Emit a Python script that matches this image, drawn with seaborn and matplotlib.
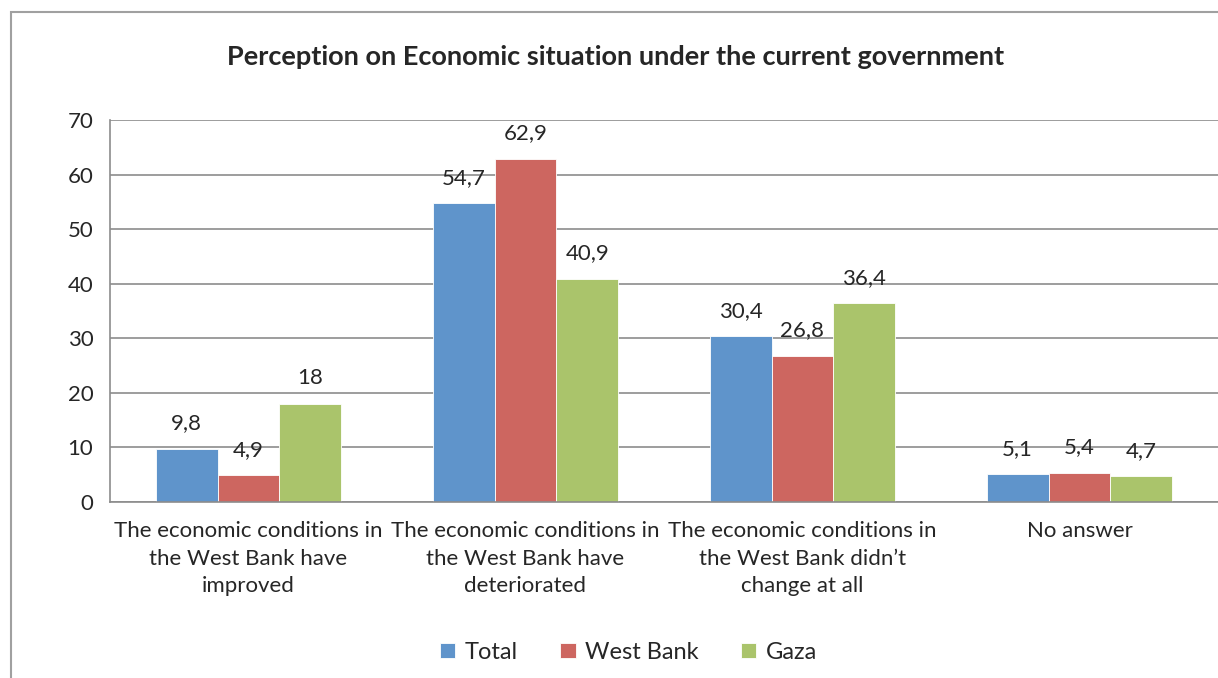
import matplotlib
matplotlib.use("Agg")
import matplotlib.pyplot as plt
from matplotlib.patches import Rectangle
import pandas as pd
import seaborn as sns

categories = [
    "The economic conditions in\nthe West Bank have\nimproved",
    "The economic conditions in\nthe West Bank have\ndeteriorated",
    "The economic conditions in\nthe West Bank didn\u2019t\nchange at all",
    "No answer",
]
series = ["Total", "West Bank", "Gaza"]
total = [9.8, 54.7, 30.4, 5.1]
west_bank = [4.9, 62.9, 26.8, 5.4]
gaza = [18, 40.9, 36.4, 4.7]
labels_total = ["9,8", "54,7", "30,4", "5,1"]
labels_wb = ["4,9", "62,9", "26,8", "5,4"]
labels_gaza = ["18", "40,9", "36,4", "4,7"]
colors = ["#5F94CB", "#CD6660", "#AAC46B"]

rows = []
for name, vals in zip(series, [total, west_bank, gaza]):
    for c, v in zip(categories, vals):
        rows.append({"category": c, "series": name, "value": v})
df = pd.DataFrame(rows)

sns.set_style("white")
plt.rcParams["font.family"] = ["Lato", "DejaVu Sans"]

fig = plt.figure(figsize=(12.18, 6.78), dpi=100)
ax = fig.add_axes([0.0903, 0.2596, 0.9097, 0.5634])

sns.barplot(data=df, x="category", y="value", hue="series", palette=colors,
            width=0.67, gap=0, saturation=1, ax=ax, legend=True,
            edgecolor="white", linewidth=0.6)

# value labels
for cont, labs in zip(ax.containers, [labels_total, labels_wb, labels_gaza]):
    ax.bar_label(cont, labels=labs, padding=11, fontsize=16)

grey = "#8C8C8C"
ax.set_ylim(0, 70)
ax.set_yticks(range(0, 71, 10))
ax.set_xlim(-0.5, 3.5)
ax.yaxis.grid(True, color=grey, linewidth=1.2)
ax.set_axisbelow(True)
for s in ["top", "right"]:
    ax.spines[s].set_visible(False)
for s in ["left", "bottom"]:
    ax.spines[s].set_color(grey)
    ax.spines[s].set_linewidth(1.2)

ax.tick_params(axis="y", length=6, color=grey, width=1.2, labelsize=16, pad=6)
ax.tick_params(axis="x", which="major", length=0, labelsize=16, pad=14)
for t in ax.get_xticklabels():
    t.set_linespacing(1.45)
ax.set_xticks([-0.5, 0.5, 1.5, 2.5, 3.5], minor=True)
ax.tick_params(axis="x", which="minor", length=8, color=grey, width=1.2)
ax.set_xlabel("")
ax.set_ylabel("")

fig.text(0.505, 0.916, "Perception on Economic situation under the current government",
         ha="center", va="center", fontsize=19.5, fontweight="bold")

handles, lbls = ax.get_legend_handles_labels()
ax.legend_.remove()
fig.legend(handles, lbls, loc="center", bbox_to_anchor=(0.516, 0.038), ncol=3,
           frameon=False, fontsize=17, handlelength=0.65, handleheight=0.65,
           columnspacing=1.8, handletextpad=0.4)

fig.patches.append(Rectangle((11 / 1218, -0.1), 1.2, 1.1 - 12 / 678,
                             transform=fig.transFigure, fill=False,
                             edgecolor="#A0A0A0", linewidth=1.5))

fig.savefig("out.png", dpi=100)
